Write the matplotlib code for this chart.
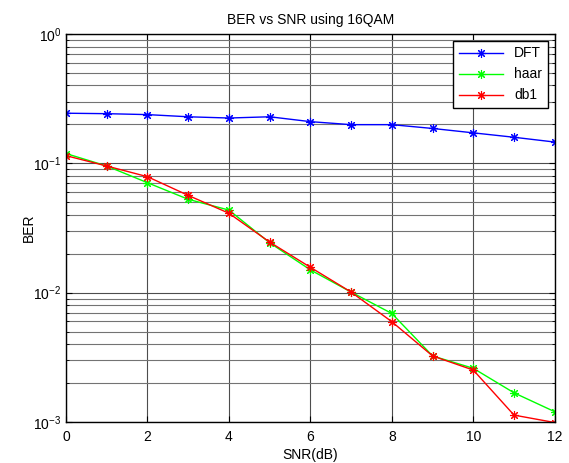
import matplotlib
matplotlib.use("Agg")
import matplotlib.pyplot as plt
import matplotlib.ticker as ticker

plt.rcParams["font.family"] = ["Liberation Sans", "DejaVu Sans"]
plt.rcParams["mathtext.fontset"] = "custom"
plt.rcParams["mathtext.rm"] = "Liberation Sans"

# SNR (dB) and BER per transform
SNR = [0, 1, 2, 3, 4, 5, 6, 7, 8, 9, 10, 11, 12]
BER_DFT = [0.244, 0.242, 0.238, 0.229, 0.224, 0.229, 0.210, 0.199, 0.199,
           0.186, 0.172, 0.159, 0.146]
BER_HAAR = [0.119, 0.0953, 0.0708, 0.0527, 0.0435, 0.0243, 0.0150, 0.0101,
            0.0069, 0.00324, 0.00260, 0.00168, 0.00120]
BER_DB1 = [0.1146, 0.0953, 0.0788, 0.0565, 0.0411, 0.0246, 0.0157, 0.0101,
           0.00596, 0.00324, 0.00252, 0.00113, 0.00099]

STAR = (8, 2, 0)
MK = dict(marker=STAR, markersize=6.5, markeredgewidth=0.8, lw=1)

fig = plt.figure(figsize=(5.69, 4.63), dpi=100)
ax = fig.add_axes([0.116, 0.0886, 0.859, 0.838])

ax.semilogy(SNR, BER_DFT, color="#0000ff", label="DFT", **MK)
ax.semilogy(SNR, BER_HAAR, color="#00ff00", label="haar", **MK)
ax.semilogy(SNR, BER_DB1, color="#ff0000", label="db1", **MK)

ax.set_xlim(0, 12)
ax.set_ylim(1e-3, 1)
ax.set_xticks(range(0, 13, 2))
ax.yaxis.set_major_locator(ticker.LogLocator(base=10, numticks=10))
ax.yaxis.set_minor_locator(ticker.LogLocator(base=10, subs=range(2, 10), numticks=20))
ax.yaxis.set_minor_formatter(ticker.NullFormatter())

ax.grid(True, which="major", color="0.3", lw=0.8)
ax.grid(True, which="minor", axis="y", color="0.45", lw=0.8)
ax.set_axisbelow(True)

ax.tick_params(which="both", direction="in", top=True, right=True, labelsize=10)
ax.tick_params(axis="x", pad=6)
ax.tick_params(which="major", length=4)
ax.tick_params(which="minor", length=2.5)
for s in ax.spines.values():
    s.set_color("black")
    s.set_linewidth(1)

ax.set_title("BER vs SNR using 16QAM", fontsize=10, pad=7)
ax.set_xlabel("SNR(dB)", fontsize=10, labelpad=3)
ax.set_ylabel("BER", fontsize=10)
ax.yaxis.set_label_coords(-0.062, 0.5)

leg = ax.legend(loc="upper right", fontsize=10, fancybox=False, framealpha=1,
                edgecolor="black", borderaxespad=0.5, handlelength=3.2)
leg.get_frame().set_linewidth(1)

fig.savefig("out.png", dpi=100)
